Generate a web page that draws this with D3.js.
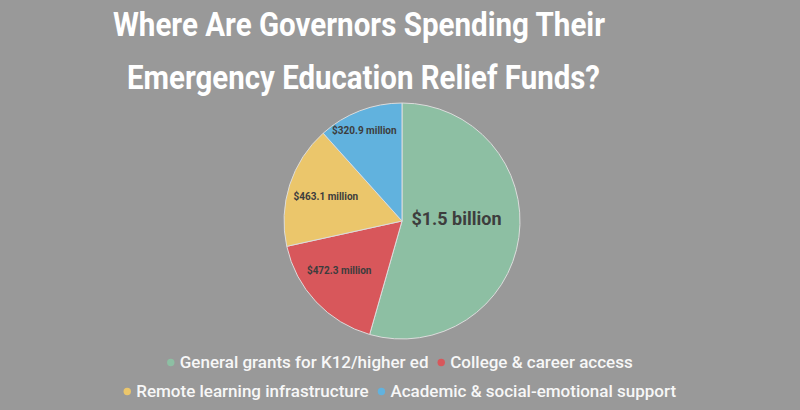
<!DOCTYPE html>
<html>
<head>
<meta charset="utf-8">
<script src="https://cdn.jsdelivr.net/npm/d3@7"></script>
<style>
  html, body { margin: 0; padding: 0; background: #999999; }
  svg { display: block; }
</style>
</head>
<body>
<svg id="chart" width="800" height="410"></svg>
<script>
// ---- data ----
const titleLines = ["Where Are Governors Spending Their", "Emergency Education Relief Funds?"];
const categories = ["General grants for K12/higher ed", "College & career access", "Remote learning infrastructure", "Academic & social-emotional support"];
const values = [1500, 472.3, 463.1, 320.9]; // millions of dollars
const valueLabels = ["$1.5 billion", "$472.3 million", "$463.1 million", "$320.9 million"];
const colors = ["#8dbfa3", "#d8575b", "#ebc66b", "#61b2de"];
const legendRows = [[0, 1], [2, 3]];

// ---- layout ----
const svg = d3.select("#chart");
const W = 800, H = 410;
const cx = 402, cy = 221, R = 118;

svg.append("rect").attr("width", W).attr("height", H).attr("fill", "#999999");

// title
const titleSpecs = [{x: 359, y: 36, len: 492}, {x: 363.5, y: 89, len: 473}];
svg.selectAll("text.title").data(titleLines).join("text")
  .attr("class", "title")
  .attr("x", (d, i) => titleSpecs[i].x)
  .attr("y", (d, i) => titleSpecs[i].y)
  .attr("text-anchor", "middle")
  .attr("textLength", (d, i) => titleSpecs[i].len)
  .attr("lengthAdjust", "spacingAndGlyphs")
  .style("font-family", "Roboto, sans-serif")
  .style("font-weight", 700)
  .style("font-size", "33px")
  .attr("fill", "#ffffff")
  .text(d => d);

// pie
const pie = d3.pie().sort(null).value(d => d);
const arcs = pie(values);
const arc = d3.arc().innerRadius(0).outerRadius(R);
const g = svg.append("g").attr("transform", `translate(${cx},${cy})`);
g.selectAll("path").data(arcs).join("path")
  .attr("d", arc)
  .attr("fill", (d, i) => colors[i])
  .attr("stroke", "#dcdcdc")
  .attr("stroke-width", 1);

// slice labels
const labelRadius = [55, 78, 80, 97];
const labelNudge = [[0, -10], [-6, -4], [0, 0], [-3, 0]];
const labelSize = [18, 10, 10, 10];
g.selectAll("text.val").data(arcs).join("text")
  .attr("class", "val")
  .attr("transform", (d, i) => {
    const a = (d.startAngle + d.endAngle) / 2;
    const x = Math.sin(a) * labelRadius[i] + labelNudge[i][0];
    const y = -Math.cos(a) * labelRadius[i] + labelNudge[i][1];
    return `translate(${x},${y})`;
  })
  .attr("text-anchor", "middle")
  .attr("dy", "0.35em")
  .style("font-family", "Roboto, sans-serif")
  .style("font-weight", 700)
  .style("font-size", (d, i) => labelSize[i] + "px")
  .attr("fill", "#3d3d3d")
  .text((d, i) => valueLabels[i]);

// legend
const legendFont = 17;
const rowY = [368, 397];
const dotR = 3.7, dotGap = 9, itemGap = 9;
legendRows.forEach((row, ri) => {
  const rowG = svg.append("g");
  let x = 0;
  row.forEach((ci, k) => {
    if (k > 0) x += itemGap;
    rowG.append("circle")
      .attr("cx", x + dotR).attr("cy", rowY[ri] - 5.5).attr("r", dotR)
      .attr("fill", colors[ci]);
    x += dotR + dotGap;
    const t = rowG.append("text")
      .attr("x", x).attr("y", rowY[ri])
      .style("font-family", "Roboto, sans-serif")
      .style("font-weight", 500)
      .style("font-size", legendFont + "px")
      .attr("fill", "#f7f7f7")
      .text(categories[ci]);
    x += t.node().getComputedTextLength();
  });
  const bb = rowG.node().getBBox();
  rowG.attr("transform", `translate(${400 - (bb.x + bb.width / 2)},0)`);
});
</script>
</body>
</html>
